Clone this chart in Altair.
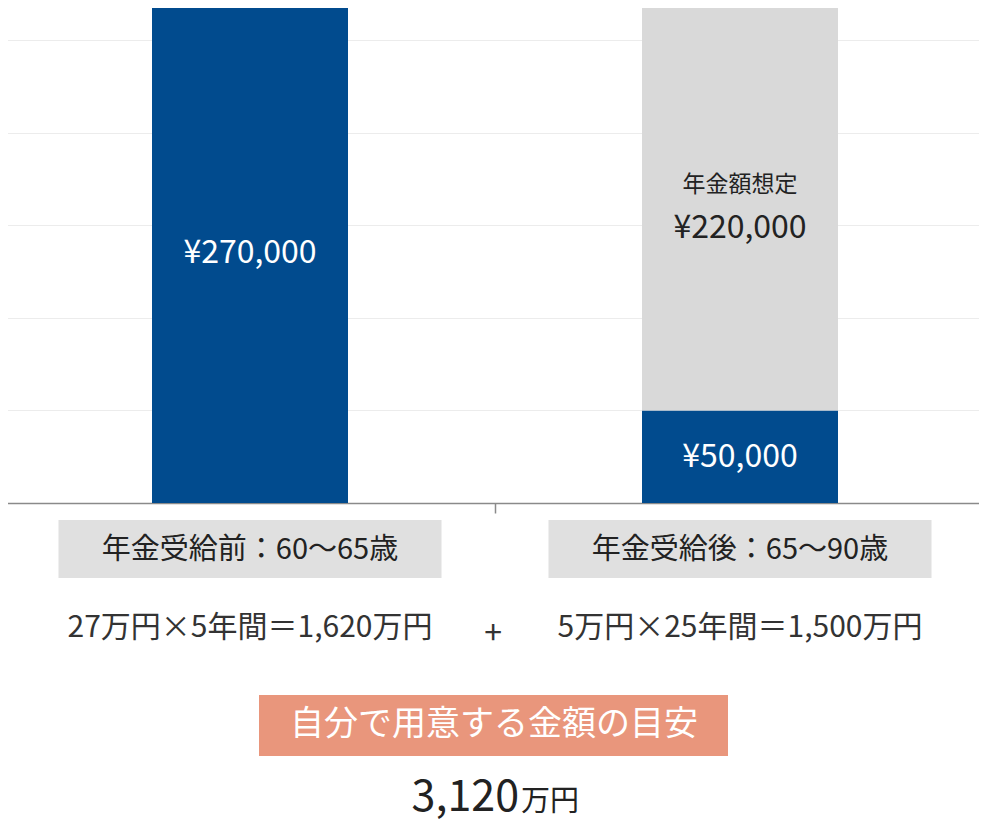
import altair as alt
import pandas as pd

# ---- data ----
categories = ["年金受給前：60〜65歳", "年金受給後：65〜90歳"]
own_amounts = [270000, 50000]
pension_amounts = [0, 220000]
own_labels = ["¥270,000", "¥50,000"]
pension_captions = ["", "年金額想定"]
pension_labels = ["", "¥220,000"]
formulas = ["27万円×5年間＝1,620万円", "5万円×25年間＝1,500万円"]
plus_sign = "+"
summary_title = "自分で用意する金額の目安"
summary_value = "3,120"
summary_unit = "万円"
grid_values = [50000, 100000, 150000, 200000, 250000]
y_max = 270000

BLUE = "#014b8e"
GRAY = "#d9d9d9"
BOX = "#e0e0e0"
SALMON = "#e9967c"
FONT = "Noto Sans CJK JP"

rows = []
for c, o, p in zip(categories, own_amounts, pension_amounts):
    rows.append({"category": c, "segment": "自己資金", "value": o, "order": 0})
    if p > 0:
        rows.append({"category": c, "segment": "年金", "value": p, "order": 1})
bars_df = pd.DataFrame(rows)

lab_df = pd.DataFrame({
    "category": categories,
    "own": own_amounts,
    "pension": pension_amounts,
    "own_label": own_labels,
    "cap": pension_captions,
    "plabel": pension_labels,
    "formula": formulas,
})
lab_df["own_mid"] = lab_df["own"] / 2
lab_df["pen_mid"] = lab_df["own"] + lab_df["pension"] / 2
pen_df = lab_df[lab_df["pension"] > 0]

one = pd.DataFrame({"k": [0]})

x_enc = alt.X(
    "category:N",
    sort=categories,
    scale=alt.Scale(paddingInner=0, paddingOuter=0),
    axis=alt.Axis(labels=False, title=None, domainColor="#8a8a8a", domainWidth=1.5,
                  tickColor="#8a8a8a", tickWidth=1.5, tickSize=10, tickBand="extent",
                  grid=False),
)
y_scale = alt.Scale(domain=[0, y_max], nice=False, zero=True)

bars = alt.Chart(bars_df).mark_bar(size=196).encode(
    x=x_enc,
    y=alt.Y("value:Q", stack="zero", scale=y_scale,
            axis=alt.Axis(values=grid_values, labels=False, ticks=False, domain=False,
                          title=None, grid=True, gridColor="#ececec", gridWidth=1)),
    color=alt.Color("segment:N", scale=alt.Scale(domain=["自己資金", "年金"], range=[BLUE, GRAY]),
                    legend=None),
    order=alt.Order("order:Q"),
)

own_text = alt.Chart(lab_df).mark_text(fontSize=32, color="white",
                                       baseline="middle").encode(
    x=alt.X("category:N", sort=categories), y=alt.Y("own_mid:Q"), text="own_label:N")

cap_text = alt.Chart(pen_df).mark_text(fontSize=23, color="#222",
                                       baseline="middle", dy=-22).encode(
    x=alt.X("category:N", sort=categories), y=alt.Y("pen_mid:Q"), text="cap:N")

pl_text = alt.Chart(pen_df).mark_text(fontSize=32, color="#222",
                                      baseline="middle", dy=21).encode(
    x=alt.X("category:N", sort=categories), y=alt.Y("pen_mid:Q"), text="plabel:N")

cat_box = alt.Chart(lab_df).mark_bar(size=383, color=BOX).encode(
    x=alt.X("category:N", sort=categories), y=alt.value(517), y2=alt.value(575))

cat_text = alt.Chart(lab_df).mark_text(fontSize=29, color="#222",
                                       baseline="middle").encode(
    x=alt.X("category:N", sort=categories), y=alt.value(547), text="category:N")

formula_text = alt.Chart(lab_df).mark_text(fontSize=30, color="#333",
                                           baseline="middle").encode(
    x=alt.X("category:N", sort=categories), y=alt.value(625), text="formula:N")

plus_text = alt.Chart(one).mark_text(fontSize=32, color="#333", baseline="middle",
                                     text=plus_sign).encode(
    x=alt.value(488), y=alt.value(631))

sal_box = alt.Chart(one).mark_rect(color=SALMON).encode(
    x=alt.value(254), x2=alt.value(723), y=alt.value(692), y2=alt.value(753))

sal_text = alt.Chart(one).mark_text(fontSize=34, color="white",
                                    baseline="middle", text=summary_title).encode(
    x=alt.value(489), y=alt.value(722))

val_text = alt.Chart(one).mark_text(fontSize=43, color="#222",
                                    baseline="alphabetic", align="right",
                                    text=summary_value).encode(
    x=alt.value(514), y=alt.value(808))

unit_text = alt.Chart(one).mark_text(fontSize=29, color="#222",
                                     baseline="alphabetic", align="left",
                                     text=summary_unit).encode(
    x=alt.value(516), y=alt.value(808))

chart = alt.layer(
    bars, own_text, cap_text, pl_text, cat_box, cat_text, formula_text,
    plus_text, sal_box, sal_text, val_text, unit_text,
).properties(
    width=980, height=500,
    padding={"left": -3, "top": -5, "right": -6, "bottom": 322},
    autosize=alt.AutoSizeParams(type="none"),
).configure_view(stroke=None).configure(font=FONT)

chart.save("out.html", embed_options={"renderer": "svg", "actions": False})
